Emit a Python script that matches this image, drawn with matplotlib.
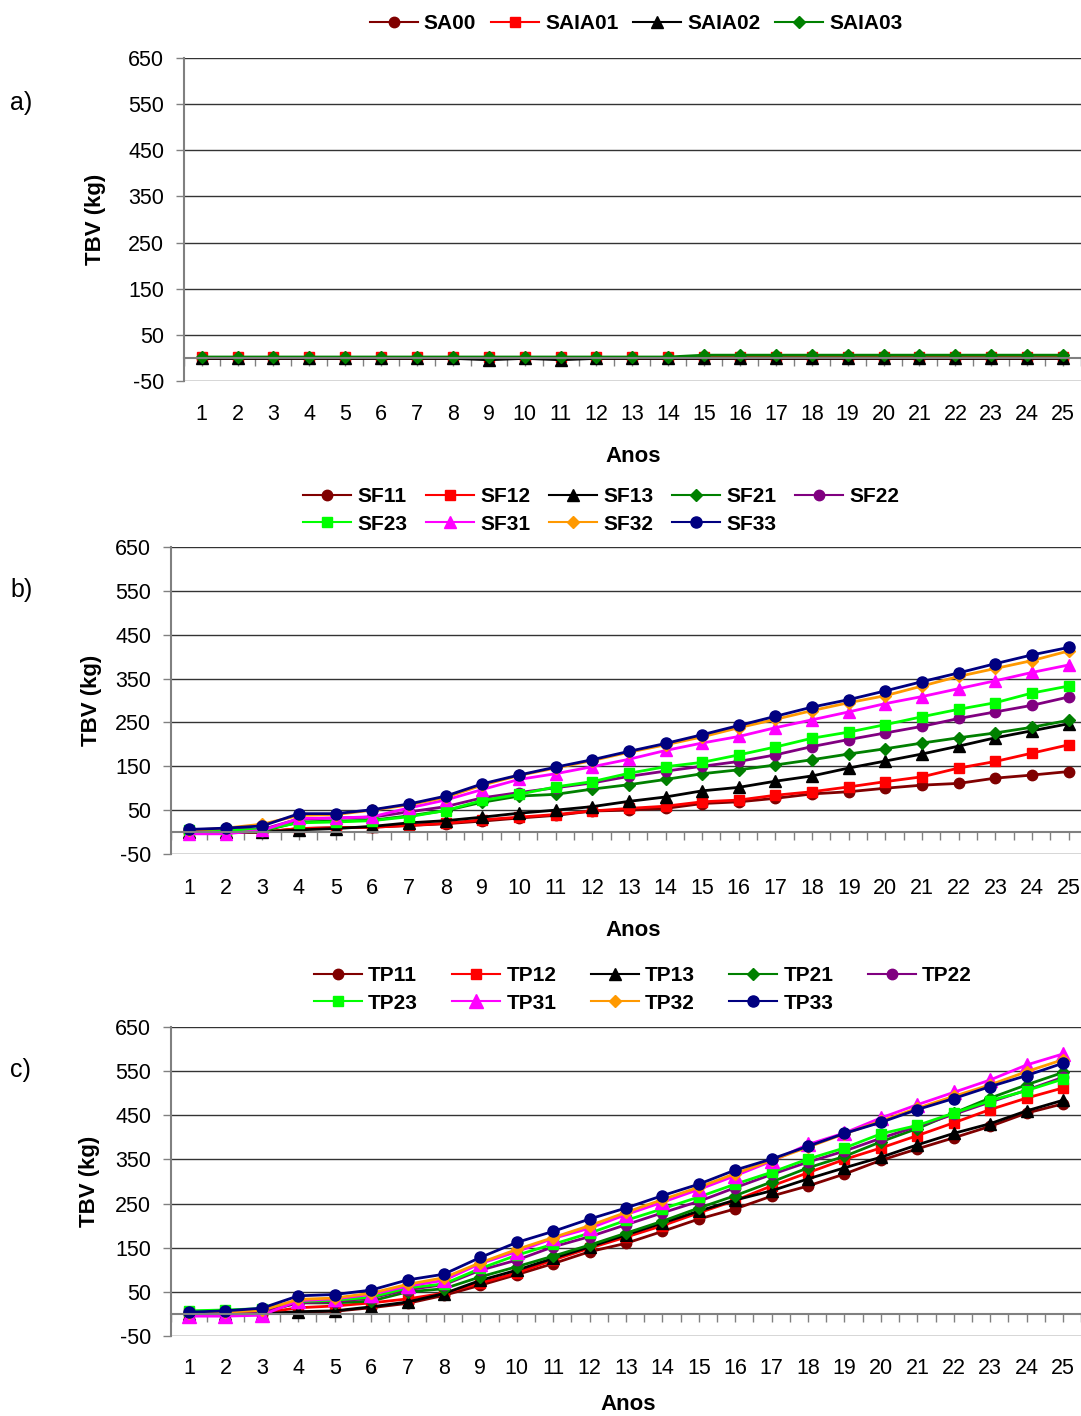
import matplotlib
matplotlib.use("Agg")
import matplotlib.pyplot as plt
from matplotlib import transforms
from matplotlib.lines import Line2D

plt.rcParams['font.family'] = ['Liberation Sans', 'DejaVu Sans']

years = list(range(1, 26))
yticks = [-50, 50, 150, 250, 350, 450, 550, 650]

# ---- panel a ----
a_names = ["SA00", "SAIA01", "SAIA02", "SAIA03"]
SA00   = [0] * 25
SAIA01 = [2] * 25
SAIA02 = [-1, -1, -1, -1, -1, -1, -1, -1, -4, -1, -4, -1, -1, -1, -1, -1, -1, -1, -1, -1, -1, -1, -1, -1, -1]
SAIA03 = [2] * 14 + [6] * 11

# ---- panel b ----
b_names = ["SF11", "SF12", "SF13", "SF21", "SF22", "SF23", "SF31", "SF32", "SF33"]
SF11 = [0, 0, 0, 8, 10, 11, 15, 19, 25, 32, 38, 48, 50, 54, 65, 69, 77, 87, 92, 100, 107, 111, 123, 130, 138]
SF12 = [0, 0, 0, 8, 10, 11, 15, 20, 28, 34, 40, 48, 54, 59, 69, 73, 84, 92, 103, 115, 126, 146, 161, 180, 199]
SF13 = [0, 0, 0, 5, 8, 13, 21, 26, 34, 43, 50, 58, 70, 80, 94, 102, 116, 128, 146, 162, 178, 196, 215, 231, 247]
SF21 = [2, 2, 2, 23, 25, 27, 37, 49, 68, 82, 86, 98, 108, 120, 133, 142, 153, 165, 178, 190, 203, 215, 226, 239, 255]
SF22 = [4, 6, 6, 30, 32, 34, 46, 58, 78, 90, 101, 112, 127, 139, 150, 161, 176, 195, 211, 226, 241, 259, 274, 289, 308]
SF23 = [4, 4, 6, 21, 23, 26, 35, 49, 72, 86, 103, 115, 134, 149, 159, 176, 194, 214, 228, 245, 263, 280, 295, 317, 333]
SF31 = [-4, -4, 4, 31, 32, 35, 55, 73, 97, 120, 133, 149, 166, 186, 203, 218, 238, 256, 274, 293, 309, 327, 345, 364, 381]
SF32 = [4, 9, 18, 38, 40, 50, 62, 79, 107, 129, 146, 163, 182, 199, 217, 238, 257, 277, 295, 311, 333, 355, 373, 391, 413]
SF33 = [6, 9, 14, 42, 42, 51, 64, 82, 110, 130, 148, 165, 184, 202, 222, 243, 264, 285, 302, 322, 343, 363, 384, 404, 421]

# ---- panel c ----
c_names = ["TP11", "TP12", "TP13", "TP21", "TP22", "TP23", "TP31", "TP32", "TP33"]
TP11 = [0, 0, 0, 4, 6, 14, 24, 42, 65, 89, 114, 141, 160, 187, 215, 238, 267, 290, 317, 348, 374, 399, 425, 455, 476]
TP12 = [1, 1, 2, 14, 18, 25, 34, 47, 70, 93, 122, 149, 174, 200, 229, 257, 290, 320, 350, 376, 404, 433, 463, 489, 512]
TP13 = [0, 0, 0, 5, 7, 16, 27, 46, 76, 99, 126, 152, 179, 206, 233, 258, 279, 306, 331, 355, 383, 409, 431, 460, 484]
TP21 = [2, 2, 4, 25, 25, 29, 50, 57, 84, 107, 131, 156, 183, 210, 240, 268, 299, 331, 357, 390, 420, 455, 489, 519, 547]
TP22 = [3, 3, 5, 25, 28, 36, 55, 66, 99, 122, 152, 175, 202, 229, 255, 286, 316, 344, 369, 398, 425, 452, 480, 507, 536]
TP23 = [7, 9, 12, 28, 31, 38, 59, 68, 103, 133, 158, 183, 212, 238, 265, 294, 321, 351, 376, 408, 427, 455, 483, 506, 532]
TP31 = [-5, -5, -3, 30, 34, 44, 63, 76, 114, 141, 171, 194, 225, 253, 282, 313, 346, 384, 410, 444, 474, 502, 530, 564, 589]
TP32 = [3, 4, 8, 33, 36, 47, 67, 82, 116, 146, 173, 200, 230, 259, 287, 318, 348, 378, 408, 437, 466, 493, 519, 549, 576]
TP33 = [4, 7, 13, 41, 44, 54, 77, 90, 128, 162, 187, 215, 240, 268, 294, 326, 351, 380, 409, 434, 463, 488, 515, 540, 568]

# styles: (color, marker, markersize)
styles9 = [("#800000", "o", 7.5), ("#FF0000", "s", 7.5), ("#000000", "^", 8.5),
           ("#008000", "D", 6.5), ("#800080", "o", 7.5), ("#00FF00", "s", 7.5),
           ("#FF00FF", "^", 8.5), ("#FF9900", "D", 6.5), ("#000080", "o", 8)]
styles4 = styles9[:4]

W, H = 1081, 1416
fig = plt.figure(figsize=(W / 100, H / 100), dpi=100)


def add_ax(left, right, top, bottom):
    return fig.add_axes([left / W, 1 - bottom / H, (right - left) / W, (bottom - top) / H])


def style_ax(ax, label_y_px, anos_x_px, anos_y_px, tbv_x_px, letter, letter_y_px):
    ax.set_xlim(0.5, 25.5)
    ax.set_ylim(-50, 650)
    ax.set_yticks(yticks)
    ax.set_yticklabels([str(v) for v in yticks], fontsize=15.5)
    ax.yaxis.grid(True, color="#333333", lw=1.0)
    ax.set_axisbelow(True)
    for s in ["top", "right"]:
        ax.spines[s].set_visible(False)
    ax.spines["left"].set_color("#808080")
    ax.spines["left"].set_linewidth(1.5)
    ax.spines["bottom"].set_position(("data", 0))
    ax.spines["bottom"].set_color("#808080")
    ax.spines["bottom"].set_linewidth(1.5)
    ax.tick_params(axis="y", direction="out", length=6, width=1, color="#808080", pad=8)
    ax.set_xticks([x + 0.5 for x in range(0, 26)])
    ax.set_xticks(years, minor=True)
    ax.tick_params(axis="x", which="both", direction="out", length=6, width=1,
                   color="#808080", labelbottom=False)
    # category labels below the plot
    trans = transforms.blended_transform_factory(ax.transData, fig.transFigure)
    for y in years:
        ax.text(y, 1 - label_y_px / H, str(y), transform=trans, ha="center",
                va="center", fontsize=15.5)
    bb = ax.get_position()
    fig.text(anos_x_px / W, 1 - anos_y_px / H, "Anos",
             ha="center", va="center", fontsize=16, fontweight="bold")
    fig.text(tbv_x_px / W, (bb.y0 + bb.y1) / 2, "TBV (kg)", rotation=90,
             ha="center", va="center", fontsize=16, fontweight="bold")
    fig.text(10 / W, 1 - letter_y_px / H, letter, ha="left", va="center", fontsize=18)


# panel a
axa = add_ax(183.7, 1081, 58, 381)
for name, vals, (c, m, ms) in zip(a_names, [SA00, SAIA01, SAIA02, SAIA03], styles4):
    axa.plot(years, vals, color=c, marker=m, markersize=ms, lw=2, label=name, clip_on=False)
style_ax(axa, 414, 633, 456, 95, "a)", 103)

# panel b
axb = add_ax(170.7, 1087, 547, 854)
for name, vals, (c, m, ms) in zip(b_names, [SF11, SF12, SF13, SF21, SF22, SF23, SF31, SF32, SF33], styles9):
    axb.plot(years, vals, color=c, marker=m, markersize=ms, lw=2, label=name, clip_on=False)
style_ax(axb, 888, 633, 931, 92, "b)", 590)

# panel c
axc = add_ax(170.8, 1081.2, 1027, 1336)
c_styles = list(styles9)
c_styles[6] = ("#FF00FF", "^", 10.5)
for name, vals, (c, m, ms) in zip(c_names, [TP11, TP12, TP13, TP21, TP22, TP23, TP31, TP32, TP33], c_styles):
    axc.plot(years, vals, color=c, marker=m, markersize=ms, lw=2, label=name, clip_on=False)
style_ax(axc, 1369, 628, 1405, 90, "c)", 1070)


def make_legend(names, sty, center_px, top_px, ncol, colsp):
    handles = [Line2D([], [], color=c, marker=m, markersize=ms, lw=1.5) for (c, m, ms) in sty]
    n = len(names)
    if ncol < n:
        # reorder so that rows are filled left-to-right
        row1 = list(range(ncol))
        row2 = list(range(ncol, n))
        order = []
        for i in range(ncol):
            order.append(row1[i])
            if i < len(row2):
                order.append(row2[i])
        handles = [handles[i] for i in order]
        names = [names[i] for i in order]
    fig.legend(handles, names, loc="upper center",
               bbox_to_anchor=(center_px / W, 1 - top_px / H), ncol=ncol,
               frameon=False, prop={"size": 15, "weight": "bold"},
               handlelength=2.3, handletextpad=0.3, columnspacing=colsp,
               labelspacing=0.4, borderpad=0.0)


make_legend(a_names, styles4, 636, 4, 4, 0.7)
make_legend(b_names, styles9, 601, 477, 5, 0.9)
make_legend(c_names, c_styles, 643, 956, 5, 1.65)

fig.savefig("out.png", dpi=100, facecolor="white")
